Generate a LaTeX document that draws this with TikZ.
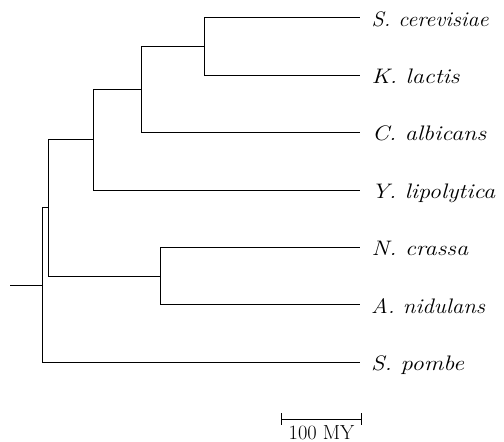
\documentclass[tikz,border=0pt]{standalone}
\usepackage{graphicx}
\usetikzlibrary{calc}
% set a taxon name in italics, stretched horizontally to a given width (in pt)
\newsavebox\taxbox
\newcommand\taxname[2]{%
  \sbox\taxbox{#2}%
  \pgfmathsetmacro\taxratio{#1/\the\wd\taxbox}%
  \scalebox{\taxratio}[1]{\usebox\taxbox}}
\begin{document}
\begin{tikzpicture}[x=1pt,y=-1pt,
  branch/.style={line width=0.9pt,black},
  taxon/.style={anchor=base west,inner sep=0pt,font=\fontsize{21}{25}\selectfont\itshape},
  scalelabel/.style={anchor=base,inner sep=0pt,font=\fontsize{20.4}{24}\selectfont}]
\useasboundingbox (0,0) rectangle (504,442);
% leaf tips
\coordinate (sc) at (360,17.7);
\coordinate (kl) at (360,75);
\coordinate (ca) at (360,132.3);
\coordinate (yl) at (360,190);
\coordinate (nc) at (360,247.3);
\coordinate (an) at (360,304.7);
\coordinate (sp) at (360,362.3);
% internal nodes
\coordinate (nsk) at (204.7,46.3);
\coordinate (nskc) at (141.3,89.7);
\coordinate (nsac) at (93,139.7);
\coordinate (npez) at (160,276.3);
\coordinate (nasc) at (48.7,207.7);
\coordinate (root) at (42,285);
\coordinate (stub) at (10,285);
% branches
\draw[branch] (nsk) |- (sc);
\draw[branch] (nsk) |- (kl);
\draw[branch] (nskc) |- (nsk);
\draw[branch] (nskc) |- (ca);
\draw[branch] (nsac) |- (nskc);
\draw[branch] (nsac) |- (yl);
\draw[branch] (npez) |- (nc);
\draw[branch] (npez) |- (an);
\draw[branch] (nasc) |- (nsac);
\draw[branch] (nasc) |- (npez);
\draw[branch] (root) |- (nasc);
\draw[branch] (root) |- (sp);
\draw[branch] (stub) -- (root);
% taxon names
\node[taxon] (lsc) at ($(sc)+(11.5,8.3)$) {\taxname{117}{S. cerevisiae}};
\node[taxon] (lkl) at ($(kl)+(11.5,8.3)$) {\taxname{88}{K. lactis}};
\node[taxon] (lca) at ($(ca)+(12,8.3)$) {\taxname{114}{C. albicans}};
\node[taxon] (lyl) at ($(yl)+(11.5,8.3)$) {\taxname{123.5}{Y. lipolytica}};
\node[taxon] (lnc) at ($(nc)+(11.5,8.3)$) {\taxname{96.5}{N. crassa}};
\node[taxon] (lan) at ($(an)+(11,8.3)$) {\taxname{114}{A. nidulans}};
\node[taxon] (lsp) at ($(sp)+(11,8.3)$) {\taxname{93}{S. pombe}};
% scale bar
\coordinate (sb1) at (281.3,419.3);
\coordinate (sb2) at (361.3,419.3);
\draw[branch] (sb1) -- (sb2);
\draw[branch] ($(sb1)+(0,-6)$) -- ($(sb1)+(0,5.5)$);
\draw[branch] ($(sb2)+(0,-6)$) -- ($(sb2)+(0,5.5)$);
\node[scalelabel] (sbl) at (321.5,439.2) {100 MY};
\end{tikzpicture}
\end{document}
